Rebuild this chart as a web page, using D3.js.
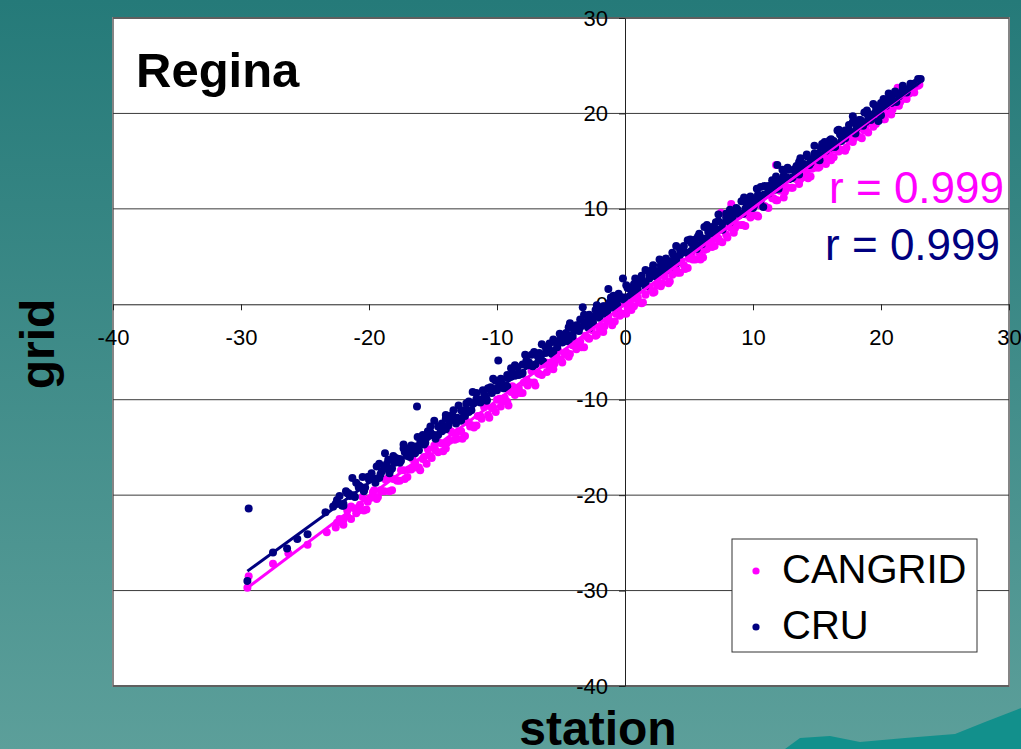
<!DOCTYPE html>
<html>
<head>
<meta charset="utf-8">
<script src="https://cdn.jsdelivr.net/npm/d3@7"></script>
<style>
  html, body { margin: 0; padding: 0; }
  body { width: 1021px; height: 749px; overflow: hidden; }
  text { font-family: "Liberation Sans", Arial, sans-serif; }
</style>
</head>
<body>
<div id="chart"></div>
<script>
// station vs grid monthly temperature, Regina  [station, grid]
const cangrid = [
  [-29.5,-29.7],[-29.4,-28.5],[-27.5,-27.2],[-26.3,-26.1],[-24.8,-25.2],[-23.3,-23.9],[-22.5,-22.9],
  [-22.0,-22.6],[-21.7,-21.6],[-21.4,-22.5],[-21.1,-21.4],[-20.8,-21.6],[-20.5,-20.2],[-20.2,-21.5],
  [-19.9,-20.3],[-19.6,-19.5],[-19.3,-20.2],[-19.0,-19.6],[-18.7,-18.4],[-18.4,-19.6],[-18.1,-18.3],
  [-17.8,-18.5],[-17.5,-17.4],[-17.2,-18.3],[-16.9,-17.3],[-16.6,-16.2],[-16.3,-17.1],[-16.0,-17.4],
  [-15.7,-16.0],[-15.4,-15.2],[-15.1,-16.1],[-14.8,-15.3],[-14.5,-14.5],[-14.2,-15.4],[-13.9,-14.5],
  [-13.6,-13.3],[-13.3,-14.2],[-13.0,-13.3],[-12.7,-14.1],[-12.4,-12.3],[-12.1,-12.8],[-11.8,-12.9],
  [-11.5,-11.7],[-11.2,-12.0],[-10.9,-10.6],[-10.6,-11.9],[-10.3,-10.8],[-10.0,-10.0],[-9.7,-10.7],
  [-9.4,-9.8],[-9.1,-10.6],[-8.8,-8.6],[-8.5,-9.2],[-8.2,-9.3],[-7.9,-8.2],[-7.6,-8.5],[-7.3,-7.0],
  [-7.0,-8.5],[-6.7,-7.3],[-6.4,-6.3],[-6.1,-7.1],[-5.8,-6.1],[-5.5,-6.2],[-5.2,-4.9],[-4.9,-6.1],
  [-4.6,-5.0],[-4.3,-5.2],[-4.0,-3.8],[-3.7,-4.3],[-3.4,-4.5],[-3.1,-3.3],[-2.8,-3.6],[-2.5,-2.1],
  [-2.2,-3.2],[-1.9,-2.3],[-1.6,-2.3],[-1.3,-1.2],[-1.0,-2.2],[-0.7,-1.0],[-0.4,-1.2],[-0.1,0.2],
  [0.2,-0.4],[0.5,-0.6],[0.8,0.6],[1.1,0.2],[1.4,0.2],[1.7,1.9],[2.0,1.5],[2.3,1.3],[2.6,2.3],
  [2.9,2.2],[3.2,3.5],[3.5,2.4],[3.8,3.4],[4.1,3.3],[4.4,4.5],[4.7,3.7],[5.0,4.8],[5.3,4.7],
  [5.6,6.0],[5.9,4.7],[6.2,5.7],[6.5,6.4],[6.8,6.0],[7.1,6.9],[7.4,6.6],[7.5,9.6],[7.7,8.0],
  [8.0,7.0],[8.3,8.0],[8.3,10.5],[8.6,8.0],[8.9,9.3],[9.2,8.3],[9.5,9.4],[9.8,9.1],[10.1,10.3],
  [10.4,9.2],[10.7,10.3],[11.0,10.2],[11.3,11.6],[11.6,11.1],[11.8,14.6],[11.9,10.9],[12.2,12.0],
  [12.5,11.8],[12.8,13.2],[13.1,12.2],[13.4,13.1],[13.7,13.1],[14.0,14.2],[14.3,13.2],[14.6,14.2],
  [14.9,14.8],[15.2,14.4],[15.5,15.9],[15.8,15.2],[16.1,15.1],[16.4,16.2],[16.7,16.0],[17.0,17.3],
  [17.3,16.4],[17.6,17.3],[17.9,17.4],[18.2,18.4],[18.5,17.4],[18.8,18.4],[19.1,19.0],[19.4,18.6],
  [19.7,20.1],[20.0,19.4],[20.3,19.4],[20.6,20.4],[20.9,20.4],[21.2,21.6],[21.3,22.7],[21.5,21.2],
  [21.8,21.8],[22.2,22.1],[22.6,22.7],[23.0,23.0],
  [-22.6,-23.4],[-22.3,-22.5],[-22.0,-23.1],[-21.7,-22.2],[-21.4,-21.2],[-21.0,-21.9],[-20.7,-21.0],
  [-20.4,-21.6],[-20.1,-20.7],[-19.7,-19.7],[-19.4,-20.4],[-19.1,-19.5],[-18.8,-19.6],[-18.5,-18.2],
  [-18.2,-19.5],[-17.9,-18.4],[-17.6,-18.5],[-17.3,-17.4],[-17.0,-18.1],[-16.7,-17.3],[-16.4,-16.6],
  [-16.1,-17.1],[-15.8,-16.2],[-15.5,-16.7],[-15.2,-15.9],[-14.9,-14.8],[-14.6,-15.5],[-14.3,-14.6],
  [-14.0,-15.1],[-13.7,-14.3],[-13.4,-13.5],[-13.1,-14.1],[-12.8,-13.3],[-12.5,-13.8],[-12.2,-12.4],
  [-11.9,-12.7],[-11.6,-12.7],[-11.3,-11.7],[-11.0,-10.8],[-10.7,-11.6],[-10.4,-10.9],[-10.1,-11.3],
  [-9.8,-9.9],[-9.5,-10.2],[-9.2,-10.2],[-8.9,-9.2],[-8.6,-9.5],[-8.3,-8.8],[-8.0,-9.3],[-7.7,-7.9],
  [-7.4,-8.2],[-7.1,-8.2],[-6.8,-7.2],[-6.5,-7.4],[-6.2,-6.1],[-5.9,-6.5],[-5.6,-6.8],[-5.3,-5.6],
  [-5.0,-5.8],[-4.7,-5.2],[-4.4,-5.5],[-4.1,-4.3],[-3.8,-4.7],[-3.5,-3.9],[-3.2,-4.5],[-2.9,-3.5],
  [-2.6,-2.7],[-2.3,-3.3],[-2.0,-2.5],[-1.7,-2.9],[-1.4,-1.7],[-1.1,-1.8],[-0.8,-1.8],[-0.5,-0.7],
  [-0.2,-1.0],[0.1,-1.0],[0.4,0.0],[0.7,-0.2],[1.0,0.7],[1.3,0.1],[1.6,1.0],[1.9,1.8],[2.2,1.2],
  [2.5,2.0],[2.8,1.9],[3.1,2.9],[3.4,2.2],[3.7,3.1],[4.0,3.7],[4.3,3.3],[4.6,4.1],[4.9,3.8],
  [5.2,5.1],[5.5,4.7],[5.8,5.4],[6.1,4.9],[6.4,5.8],[6.7,6.5],[7.0,6.1],[7.3,6.9],[7.6,6.5],
  [7.9,7.3],[8.2,8.1],[8.5,7.5],[8.8,8.3],[9.1,8.3],[9.4,8.2],[9.7,9.4],[10.0,9.3],[10.3,9.3],
  [10.6,10.4],[10.9,10.3],[11.2,10.1],[11.5,11.1],[11.8,10.9],[12.1,11.9],[12.4,11.2],[12.7,12.2],
  [13.0,12.2],[13.3,13.2],[13.6,12.6],[13.9,13.3],[14.2,13.9],[14.5,13.4],[14.8,14.3],[15.1,14.3],
  [15.4,15.2],[15.7,14.7],[16.0,15.6],[16.3,15.4],[16.6,16.5],[16.9,16.2],[17.2,16.1],[17.5,17.1],
  [17.8,17.0],[18.1,17.9],[18.4,17.5],[18.7,18.2],[19.0,18.0],[19.3,19.0],[19.6,18.9],[19.9,19.7],
  [20.2,19.4],[20.5,20.1],[20.8,19.9],[21.1,20.8],[21.4,20.8],[21.7,21.5],[22.0,21.5],[22.3,22.2],
  [22.6,22.2],[22.9,22.9]
];

const cru = [
  [-29.5,-29.0],[-29.4,-21.4],[-27.5,-26.0],[-26.4,-25.6],[-25.6,-24.6],[-24.8,-24.1],[-23.4,-21.8],
  [-22.8,-21.2],[-22.5,-20.5],[-22.1,-21.1],[-21.8,-19.6],[-21.5,-20.1],[-21.3,-18.2],[-21.1,-20.2],
  [-20.8,-19.0],[-20.5,-18.1],[-20.3,-19.2],[-20.0,-18.4],[-19.8,-17.7],[-19.5,-18.7],[-19.2,-16.7],
  [-19.0,-17.5],[-18.75,-15.6],[-18.6,-16.7],[-18.3,-17.3],[-18.1,-15.9],[-17.8,-16.2],[-17.5,-16.4],
  [-17.3,-14.7],[-17.0,-15.1],[-16.8,-16.0],[-16.5,-15.0],[-16.25,-10.7],[-16.2,-13.9],[-15.9,-14.2],
  [-15.7,-14.7],[-15.4,-13.3],[-15.1,-13.7],[-14.9,-12.2],[-14.6,-13.7],[-14.3,-12.5],[-14.0,-11.6],
  [-13.8,-12.7],[-13.5,-11.6],[-13.2,-12.5],[-13.0,-10.6],[-12.7,-11.2],[-12.4,-10.4],[-12.2,-11.3],
  [-11.9,-9.2],[-11.6,-10.0],[-11.3,-10.1],[-11.1,-9.0],[-10.8,-10.0],[-10.5,-8.7],[-10.3,-7.8],
  [-10.0,-8.8],[-9.9,-5.9],[-9.7,-7.8],[-9.4,-8.8],[-9.2,-7.7],[-8.9,-6.7],[-8.6,-7.5],[-8.4,-6.6],
  [-8.1,-7.3],[-7.8,-5.3],[-7.5,-6.1],[-7.3,-5.3],[-7.0,-6.3],[-6.7,-5.1],[-6.5,-4.2],[-6.2,-5.1],
  [-5.9,-4.1],[-5.7,-5.2],[-5.4,-4.0],[-5.1,-3.1],[-4.9,-4.0],[-4.6,-3.0],[-4.3,-2.0],[-4.1,-3.4],
  [-3.8,-2.5],[-3.5,-1.6],[-3.3,-0.3],[-3.0,-1.8],[-2.8,-1.1],[-2.5,-1.9],[-2.2,-0.1],[-2.0,-0.7],
  [-1.7,-1.0],[-1.3,1.6],[-1.2,0.2],[-0.9,0.9],[-0.6,-0.1],[-0.4,0.8],[-0.16,2.7],[-0.1,0.5],
  [0.2,1.7],[0.5,1.5],[0.8,2.7],[1.0,1.5],[1.3,2.6],[1.6,3.6],[1.9,2.7],[2.1,3.6],[2.4,2.9],
  [2.7,4.7],[3.0,4.1],[3.2,4.8],[3.5,3.9],[3.8,5.1],[4.0,6.1],[4.3,5.2],[4.6,6.1],[4.9,5.4],
  [5.1,6.8],[5.4,6.4],[5.7,7.1],[6.0,6.3],[6.2,8.1],[6.5,7.6],[6.8,7.4],[7.1,8.6],[7.3,9.4],
  [7.6,7.9],[7.9,9.1],[8.2,9.9],[8.4,9.2],[8.7,10.1],[9.0,9.4],[9.3,11.2],[9.5,10.5],[9.8,11.3],
  [10.1,10.4],[10.4,11.5],[10.6,12.3],[10.8,10.2],[10.9,11.5],[11.2,12.4],[11.5,13.0],[11.7,12.0],
  [11.9,14.6],[12.0,13.0],[12.3,14.1],[12.6,13.3],[12.8,14.1],[13.1,13.3],[13.4,14.5],[13.7,15.3],
  [13.9,14.4],[14.2,15.5],[14.5,15.2],[14.8,16.6],[15.0,15.2],[15.3,16.4],[15.6,17.0],[15.9,16.5],
  [16.1,17.3],[16.4,16.5],[16.7,18.3],[17.0,17.9],[17.2,17.6],[17.5,18.8],[17.8,19.7],[18.1,18.8],
  [18.3,19.3],[18.6,18.7],[18.9,20.3],[19.2,19.9],[19.4,21.0],[19.7,20.1],[19.8,19.2],[20.0,21.1],
  [20.3,20.8],[20.6,22.1],[20.8,21.6],[21.1,22.3],[21.4,21.8],[21.7,22.6],[22.0,22.5],[22.3,22.9],
  [22.7,23.2],[23.1,23.6],
  [-22.6,-20.9],[-22.3,-20.1],[-22.0,-20.9],[-21.7,-19.8],[-21.4,-20.0],[-21.0,-18.7],[-20.7,-19.1],
  [-20.4,-19.5],[-20.1,-18.1],[-19.7,-18.2],[-19.4,-17.0],[-19.1,-17.8],[-18.8,-17.0],[-18.5,-16.3],
  [-18.2,-17.2],[-17.9,-16.1],[-17.6,-16.2],[-17.3,-15.1],[-17.0,-15.9],[-16.7,-14.8],[-16.4,-14.9],
  [-16.1,-15.3],[-15.8,-13.7],[-15.5,-13.9],[-15.2,-12.8],[-14.9,-13.7],[-14.6,-12.8],[-14.3,-13.3],
  [-14.0,-12.0],[-13.7,-12.2],[-13.4,-11.1],[-13.1,-11.9],[-12.8,-11.1],[-12.5,-11.7],[-12.2,-10.2],
  [-11.9,-10.4],[-11.6,-9.3],[-11.3,-10.3],[-11.0,-9.4],[-10.7,-8.8],[-10.4,-9.3],[-10.1,-8.0],
  [-9.8,-8.4],[-9.5,-8.8],[-9.2,-7.4],[-8.9,-7.6],[-8.6,-6.4],[-8.3,-7.4],[-8.0,-6.3],[-7.7,-5.9],
  [-7.4,-6.4],[-7.1,-5.0],[-6.8,-5.5],[-6.5,-5.9],[-6.2,-4.5],[-5.9,-4.8],[-5.6,-3.7],[-5.3,-4.5],
  [-5.0,-3.5],[-4.7,-3.5],[-4.4,-2.4],[-4.1,-3.2],[-3.8,-2.2],[-3.5,-2.4],[-3.2,-1.1],[-2.9,-2.4],
  [-2.6,-1.3],[-2.3,-0.6],[-2.0,-1.1],[-1.7,-0.2],[-1.4,-0.8],[-1.1,0.7],[-0.8,0.4],[-0.5,1.1],
  [-0.2,0.7],[0.1,2.0],[0.4,0.9],[0.7,2.1],[1.0,2.0],[1.3,3.0],[1.6,2.3],[1.9,3.2],[2.2,4.1],
  [2.5,3.5],[2.8,3.3],[3.1,4.6],[3.4,4.5],[3.7,5.4],[4.0,4.7],[4.3,5.7],[4.6,5.5],[4.9,6.7],
  [5.2,5.6],[5.5,6.8],[5.8,7.4],[6.1,6.9],[6.4,8.3],[6.7,7.8],[7.0,7.5],[7.3,8.7],[7.6,8.5],
  [7.9,9.5],[8.2,8.6],[8.5,9.7],[8.8,9.6],[9.1,10.8],[9.4,10.0],[9.7,11.0],[10.0,11.0],[10.3,12.1],
  [10.6,10.9],[10.9,12.4],[11.2,12.0],[11.5,12.6],[11.8,13.4],[12.1,12.6],[12.4,13.5],[12.7,14.3],
  [13.0,13.2],[13.3,14.2],[13.6,14.9],[13.9,14.5],[14.2,15.7],[14.5,14.8],[14.8,15.8],[15.1,15.8],
  [15.4,16.8],[15.7,16.1],[16.0,17.2],[16.3,17.1],[16.6,18.2],[16.9,17.1],[17.2,18.2],[17.5,18.1],
  [17.8,19.1],[18.1,18.5],[18.4,19.3],[18.7,20.1],[19.0,19.7],[19.3,19.5],[19.6,20.7],[19.9,20.5],
  [20.2,21.5],[20.5,21.3],[20.8,21.1],[21.1,22.1],[21.4,22.1],[21.7,22.9],[22.0,22.4],[22.3,23.1],
  [22.6,23.1],[22.9,23.6],
  [-22.4,-20.9],[-22.0,-21.1],[-21.6,-19.8],[-21.2,-20.0],[-20.8,-19.2],[-20.4,-19.6],[-20.0,-18.1],
  [-19.6,-18.3],[-19.2,-18.2],[-18.8,-17.1],[-18.4,-17.7],[-18.0,-16.6],[-17.6,-16.6],[-17.2,-15.5],
  [-16.8,-15.6],[-16.4,-15.6],[-16.0,-14.5],[-15.6,-14.5],[-15.2,-13.4],[-14.8,-14.1],[-14.4,-13.1],
  [-14.0,-13.1],[-13.6,-12.0],[-13.2,-12.1],[-12.8,-12.2],[-12.4,-11.0],[-12.0,-11.1],[-11.6,-9.9],
  [-11.2,-10.0],[-10.8,-10.1],[-10.4,-8.9],[-10.0,-9.0],[-9.6,-8.3],[-9.2,-8.6],[-8.8,-7.2],
  [-8.4,-7.3],[-8.0,-7.2],[-7.6,-6.4],[-7.2,-6.5],[-6.8,-5.3],[-6.4,-6.0],[-6.0,-5.0],[-5.6,-5.0],
  [-5.2,-3.9],[-4.8,-3.9],[-4.4,-3.9],[-4.0,-2.6],[-3.6,-2.8],[-3.2,-2.1],[-2.8,-2.5],[-2.4,-1.3],
  [-2.0,-1.4],[-1.6,-0.2],[-1.2,-0.4],[-0.8,-0.4],[-0.4,0.6],[0.0,0.7],[0.4,1.7],[0.8,1.3],
  [1.2,2.2],[1.6,1.9],[2.0,3.1],[2.4,3.1],[2.8,4.1],[3.2,3.6],[3.6,4.4],[4.0,4.3],[4.4,5.4],
  [4.8,5.4],[5.2,6.4],[5.6,5.8],[6.0,6.9],[6.4,6.9],[6.8,8.1],[7.2,7.8],[7.6,7.8],[8.0,8.9],
  [8.4,8.9],[8.8,9.9],[9.2,9.5],[9.6,10.3],[10.0,10.1],[10.4,11.4],[10.8,11.4],[11.2,11.6],
  [11.6,12.8],[12.0,12.1],[12.4,13.0],[12.8,13.1],[13.2,14.1],[13.6,13.6],[14.0,14.7],[14.4,14.6],
  [14.8,15.3],[15.2,15.1],[15.6,16.4],[16.0,16.4],[16.4,16.5],[16.8,17.8],[17.2,17.4],[17.6,18.1],
  [18.0,17.9],[18.4,19.2],[18.8,19.1],[19.2,19.3],[19.6,20.2],[20.0,19.8],[20.4,20.8],[20.8,21.5],
  [21.2,21.2],[21.6,22.1],[22.0,22.2],[22.4,23.0]
];

// linear trendlines (slope, intercept) as shown on the chart
const cangridFit = [1.007, 0.0];
const cruFit = [0.975, 0.8];

const seriesNames = ["CANGRID", "CRU"];
const rLabels = ["r = 0.999", "r = 0.999"];
const xTicks = [-40, -30, -20, -10, 0, 10, 20, 30];
const yTicks = [30, 20, 10, 0, -10, -20, -30, -40];

const W = 1021, H = 749;
const magenta = "#ff00ff", navy = "#000080";

const svg = d3.select("#chart").append("svg")
    .attr("width", W)
    .attr("height", H);

// slide background
const grad = svg.append("defs").append("linearGradient")
    .attr("id", "bg").attr("x1", 0).attr("y1", 0).attr("x2", 0).attr("y2", 1);
grad.append("stop").attr("offset", "0%").attr("stop-color", "#257a79");
grad.append("stop").attr("offset", "100%").attr("stop-color", "#5c9f9a");
svg.append("rect").attr("width", W).attr("height", H).attr("fill", "url(#bg)");

// little hills decoration bottom right
svg.append("path")
    .attr("d", "M785,749 L800,738 L830,736 L860,742 L905,738 L955,734 L985,722 L1021,708 L1021,749 Z")
    .attr("fill", "#12908c");

const x = d3.scaleLinear().domain([-40, 30]).range([113, 1009]);
const y = d3.scaleLinear().domain([-40, 30]).range([686, 18]);

// plot area
svg.append("rect")
    .attr("x", x(-40)).attr("y", y(30))
    .attr("width", x(30) - x(-40)).attr("height", y(-40) - y(30))
    .attr("fill", "#fff")
    .attr("stroke", "#858585")
    .attr("stroke-width", 2);

// gridlines
svg.append("g")
    .selectAll("line")
    .data(yTicks.filter(d => d !== 0))
    .join("line")
    .attr("x1", x(-40)).attr("x2", x(30))
    .attr("y1", d => y(d)).attr("y2", d => y(d))
    .attr("stroke", "#3a3a3a")
    .attr("stroke-width", 1);

// axes crossing at zero
const xAxis = svg.append("g")
    .attr("transform", `translate(0,${y(0)})`)
    .call(d3.axisBottom(x).tickValues(xTicks).tickFormat(d => String(d))
        .tickSize(6).tickPadding(19).tickSizeOuter(0));

const yAxis = svg.append("g")
    .attr("transform", `translate(${x(0)},0)`)
    .call(d3.axisLeft(y).tickValues(yTicks).tickFormat(d => String(d))
        .tickSize(6).tickPadding(11).tickSizeOuter(0));

[xAxis, yAxis].forEach(g => {
    g.select(".domain").attr("stroke", "#222");
    g.selectAll(".tick line").attr("stroke", "#222");
    g.selectAll("text")
        .attr("fill", "#000")
        .style("font-family", "'Liberation Sans', Arial, sans-serif")
        .style("font-size", "22px");
});

// points
svg.append("g")
    .selectAll("circle")
    .data(cangrid)
    .join("circle")
    .attr("cx", d => x(d[0]))
    .attr("cy", d => y(d[1]))
    .attr("r", 4)
    .attr("fill", magenta);

svg.append("g")
    .selectAll("circle")
    .data(cru)
    .join("circle")
    .attr("cx", d => x(d[0]))
    .attr("cy", d => y(d[1]))
    .attr("r", 4)
    .attr("fill", navy);

// trendlines over data range
function trend(data, fit, color) {
    const ext = d3.extent(data, d => d[0]);
    svg.append("line")
        .attr("x1", x(ext[0])).attr("y1", y(fit[0] * ext[0] + fit[1]))
        .attr("x2", x(ext[1])).attr("y2", y(fit[0] * ext[1] + fit[1]))
        .attr("stroke", color)
        .attr("stroke-width", 3);
}
trend(cangrid, cangridFit, magenta);
trend(cru, cruFit, navy);

// title and r values
svg.append("text")
    .attr("x", 136).attr("y", 87)
    .style("font-size", "49px").style("font-weight", "bold")
    .text("Regina");

svg.append("text")
    .attr("x", 1004).attr("y", 203)
    .attr("text-anchor", "end")
    .attr("fill", magenta)
    .style("font-size", "44px")
    .text(rLabels[0]);

svg.append("text")
    .attr("x", 1000).attr("y", 260)
    .attr("text-anchor", "end")
    .attr("fill", navy)
    .style("font-size", "44px")
    .text(rLabels[1]);

// legend
const legend = svg.append("g").attr("transform", "translate(732,539)");
legend.append("rect")
    .attr("width", 245).attr("height", 113)
    .attr("fill", "#fff").attr("stroke", "#333").attr("stroke-width", 1);
[magenta, navy].forEach((c, i) => {
    legend.append("circle").attr("cx", 24).attr("cy", 32 + i * 56).attr("r", 3.6).attr("fill", c);
    legend.append("text")
        .attr("x", 50).attr("y", 44 + i * 56)
        .style("font-size", "40px")
        .text(seriesNames[i]);
});

// axis titles
svg.append("text")
    .attr("x", 598).attr("y", 745)
    .attr("text-anchor", "middle")
    .style("font-size", "48px").style("font-weight", "bold")
    .text("station");

svg.append("text")
    .attr("transform", "translate(54,344) rotate(-90)")
    .attr("text-anchor", "middle")
    .style("font-size", "48px").style("font-weight", "bold")
    .text("grid");
</script>
</body>
</html>
